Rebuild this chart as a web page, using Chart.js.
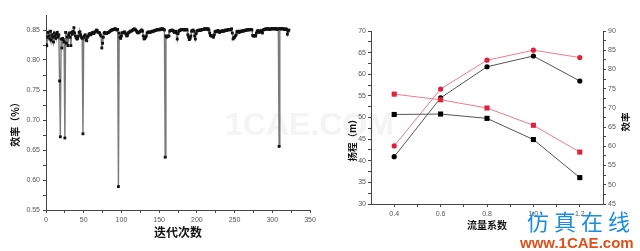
<!DOCTYPE html>
<html>
<head>
<meta charset="utf-8">
<script src="https://cdn.jsdelivr.net/npm/chart.js@4/dist/chart.umd.min.js"></script>
<style>
  html, body { margin: 0; padding: 0; background: #fff; overflow: hidden; }
  #wrap { position: relative; width: 640px; height: 251px; }
  canvas { position: absolute; top: 0; z-index: 1; }
  #c1 { left: 0; }
  #c2 { left: 330px; }
  .mark { position: absolute; white-space: nowrap; }
  #wm { left: 225px; top: 106px; font: bold 32px "Liberation Sans", Arial, sans-serif; color: #f4f4f4; z-index: 0; }
  #site { left: 527px; top: 206px; font: 22px "Noto Sans CJK SC", sans-serif; color: #1a8de0; letter-spacing: 5px; line-height: 28px; z-index: 2; }
  #url { left: 520px; top: 234px; font: bold 15px "Liberation Sans", Arial, sans-serif; color: #e2501a; line-height: 17px; z-index: 2; }
</style>
</head>
<body>
<div id="wrap">
  <div class="mark" id="wm">1CAE.COM</div>
  <canvas id="c1" width="330" height="251"></canvas>
  <canvas id="c2" width="310" height="251"></canvas>
  <div class="mark" id="site">仿真在线</div>
  <div class="mark" id="url">www.1CAE.com</div>
</div>
<script>
// left chart: efficiency per iteration (index = iteration number)
const iterEff = [
  0.826, 0.824, 0.838, 0.846, 0.840, 0.835, 0.848, 0.833, 0.842, 0.838,
  0.830, 0.845, 0.840, 0.836, 0.843, 0.846, 0.838, 0.842, 0.765, 0.672,
  0.835, 0.820, 0.836, 0.834, 0.830, 0.670, 0.846, 0.828, 0.838, 0.824,
  0.842, 0.845, 0.838, 0.824, 0.846, 0.843, 0.848, 0.854, 0.845, 0.840,
  0.837, 0.835, 0.836, 0.840, 0.846, 0.847, 0.842, 0.838, 0.836, 0.677,
  0.838, 0.840, 0.842, 0.834, 0.832, 0.838, 0.840, 0.843, 0.844, 0.842,
  0.843, 0.845, 0.846, 0.844, 0.845, 0.847, 0.848, 0.850, 0.849, 0.846,
  0.846, 0.845, 0.842, 0.840, 0.820, 0.828, 0.838, 0.845, 0.846, 0.844,
  0.844, 0.845, 0.846, 0.846, 0.847, 0.848, 0.849, 0.850, 0.850, 0.851,
  0.851, 0.852, 0.852, 0.851, 0.850, 0.851, 0.589, 0.845, 0.838, 0.836,
  0.840, 0.845, 0.846, 0.846, 0.847, 0.845, 0.843, 0.840, 0.841, 0.845,
  0.846, 0.847, 0.848, 0.848, 0.849, 0.850, 0.851, 0.852, 0.851, 0.850,
  0.848, 0.846, 0.845, 0.846, 0.847, 0.848, 0.849, 0.850, 0.848, 0.840,
  0.835, 0.836, 0.838, 0.840, 0.845, 0.846, 0.847, 0.846, 0.846, 0.847,
  0.847, 0.848, 0.848, 0.848, 0.849, 0.849, 0.850, 0.850, 0.851, 0.851,
  0.850, 0.851, 0.852, 0.851, 0.852, 0.852, 0.851, 0.850, 0.638, 0.840,
  0.838, 0.839, 0.840, 0.840, 0.848, 0.849, 0.849, 0.850, 0.849, 0.848,
  0.846, 0.847, 0.848, 0.845, 0.835, 0.844, 0.848, 0.849, 0.850, 0.850,
  0.851, 0.851, 0.851, 0.850, 0.850, 0.851, 0.851, 0.850, 0.842, 0.838,
  0.834, 0.836, 0.840, 0.848, 0.849, 0.850, 0.848, 0.840, 0.835, 0.844,
  0.848, 0.849, 0.849, 0.850, 0.849, 0.850, 0.850, 0.851, 0.851, 0.851,
  0.852, 0.852, 0.852, 0.851, 0.852, 0.852, 0.850, 0.845, 0.841, 0.840,
  0.840, 0.840, 0.838, 0.842, 0.847, 0.848, 0.847, 0.848, 0.849, 0.848,
  0.846, 0.847, 0.848, 0.848, 0.849, 0.848, 0.848, 0.849, 0.850, 0.849,
  0.850, 0.850, 0.851, 0.851, 0.850, 0.851, 0.852, 0.845, 0.835, 0.837,
  0.838, 0.840, 0.842, 0.847, 0.848, 0.847, 0.846, 0.848, 0.847, 0.848,
  0.848, 0.849, 0.848, 0.849, 0.849, 0.850, 0.850, 0.850, 0.851, 0.850,
  0.851, 0.851, 0.851, 0.850, 0.841, 0.840, 0.840, 0.841, 0.840, 0.845,
  0.848, 0.849, 0.847, 0.846, 0.848, 0.849, 0.847, 0.845, 0.850, 0.851,
  0.851, 0.852, 0.851, 0.852, 0.852, 0.852, 0.851, 0.851, 0.852, 0.852,
  0.852, 0.852, 0.852, 0.852, 0.852, 0.852, 0.851, 0.852, 0.852, 0.656,
  0.852, 0.852, 0.852, 0.852, 0.852, 0.852, 0.851, 0.851, 0.852, 0.851,
  0.843, 0.848, 0.850
];
const iterTicks = [0, 50, 100, 150, 200, 250, 300, 350];
const iterMinor = [25, 75, 125, 175, 225, 275, 325];
const effTicks = [0.55, 0.60, 0.65, 0.70, 0.75, 0.80, 0.85];
const effMinor = [0.575, 0.625, 0.675, 0.725, 0.775, 0.825];

// right chart: head and efficiency vs flow coefficient
const flowCoef = [0.4, 0.6, 0.8, 1.0, 1.2];
const headBlack = [50.7, 50.8, 49.8, 44.9, 36.1];
const headRed = [55.4, 54.1, 52.2, 48.2, 42.0];
const effBlack = [57.3, 72.6, 80.7, 83.5, 77.0];
const effRed = [60.1, 74.9, 82.4, 85.0, 83.1];
const flowTicks = [0.4, 0.6, 0.8, 1.0, 1.2];
const flowMinor = [0.5, 0.7, 0.9, 1.1];
const headTicks = [30, 35, 40, 45, 50, 55, 60, 65, 70];
const headMinor = [32.5, 37.5, 42.5, 47.5, 52.5, 57.5, 62.5, 67.5];
const effRTicks = [45, 50, 55, 60, 65, 70, 75, 80, 85, 90];
const effRMinor = [47.5, 52.5, 57.5, 62.5, 67.5, 72.5, 77.5, 82.5, 87.5];

const tickFont = { family: '"Liberation Sans", Arial, sans-serif', size: 7 };
const titleFont = { family: '"Noto Sans CJK SC", sans-serif', weight: 'bold' };

// vertical axis titles, placed where the reference has them
const sideTitles = {
  id: 'sideTitles',
  afterDraw(chart, args, opts) {
    const ctx = chart.ctx;
    (opts.items || []).forEach(t => {
      ctx.save();
      ctx.translate(t.x, t.y);
      ctx.rotate(t.rot);
      ctx.font = 'bold ' + t.size + 'px "Noto Sans CJK SC", sans-serif';
      ctx.fillStyle = '#111';
      ctx.textAlign = 'center';
      ctx.textBaseline = 'middle';
      ctx.fillText(t.text, 0, 0);
      ctx.restore();
    });
  }
};

const withMinor = (major, minor) => scale => {
  scale.ticks = major.concat(minor).sort((a, b) => a - b).map(value => ({ value }));
};

function axis(extra) {
  return Object.assign({
    type: 'linear',
    grid: { display: true, drawOnChartArea: false, tickLength: 3, color: '#444', tickWidth: 1 },
    border: { display: true, color: '#444', width: 1 },
  }, extra);
}

new Chart(document.getElementById('c1'), {
  type: 'line',
  data: {
    datasets: [{
      data: iterEff.map((v, i) => ({ x: i, y: v })),
      borderColor: '#7a7a7a',
      borderWidth: 1.4,
      pointStyle: 'rect',
      pointRadius: 2,
      pointBorderWidth: 0,
      pointBackgroundColor: '#111',
      tension: 0
    }]
  },
  options: {
    responsive: false,
    animation: false,
    devicePixelRatio: 1,
    layout: { padding: { top: 15, right: 20, left: 0, bottom: 0 } },
    plugins: {
      legend: { display: false },
      tooltip: { enabled: false },
      sideTitles: { items: [{ text: '效率（%）', x: 15, y: 122, rot: -Math.PI / 2, size: 10 }] }
    },
    scales: {
      x: axis({
        min: 0, max: 350,
        afterBuildTicks: withMinor(iterTicks, iterMinor),
        afterFit: s => { s.height = 41; },
        ticks: {
          autoSkip: false, maxRotation: 0, padding: 3, color: '#555', font: tickFont,
          callback: v => iterTicks.includes(v) ? String(v) : ''
        },
        title: { display: true, text: '迭代次数', color: '#111', font: Object.assign({ size: 12 }, titleFont), padding: { top: 0, bottom: 11 } }
      }),
      y: axis({
        min: 0.55, max: 0.875,
        afterBuildTicks: withMinor(effTicks, effMinor),
        afterFit: s => { s.width = 46; },
        ticks: {
          autoSkip: false, padding: 3, color: '#555', font: tickFont,
          callback: v => effTicks.includes(v) ? v.toFixed(2) : ''
        }
      })
    }
  },
  plugins: [sideTitles]
});

const pts = ys => flowCoef.map((x, i) => ({ x, y: ys[i] }));

new Chart(document.getElementById('c2'), {
  type: 'line',
  data: {
    datasets: [
      { data: pts(headBlack), yAxisID: 'y', borderColor: '#555', backgroundColor: '#000', pointBackgroundColor: '#000', pointStyle: 'rect', pointRadius: 3.6 },
      { data: pts(headRed), yAxisID: 'y', borderColor: '#f07a8a', backgroundColor: '#e0203c', pointBackgroundColor: '#e0203c', pointStyle: 'rect', pointRadius: 3.6 },
      { data: pts(effBlack), yAxisID: 'y1', borderColor: '#555', backgroundColor: '#000', pointBackgroundColor: '#000', pointStyle: 'circle', pointRadius: 2.6 },
      { data: pts(effRed), yAxisID: 'y1', borderColor: '#f07a8a', backgroundColor: '#e0203c', pointBackgroundColor: '#e0203c', pointStyle: 'circle', pointRadius: 2.6 }
    ].map(d => Object.assign({ borderWidth: 1, pointBorderWidth: 0, tension: 0 }, d))
  },
  options: {
    responsive: false,
    animation: false,
    devicePixelRatio: 1,
    layout: { padding: { top: 31, right: 0, left: 0, bottom: 0 } },
    plugins: {
      legend: { display: false },
      tooltip: { enabled: false },
      sideTitles: { items: [
        { text: '扬程（m）', x: 22, y: 138, rot: -Math.PI / 2, size: 9.5 },
        { text: '效率', x: 295, y: 122, rot: -Math.PI / 2, size: 9.5 }
      ] }
    },
    scales: {
      x: axis({
        min: 0.3, max: 1.3,
        afterBuildTicks: withMinor(flowTicks, flowMinor),
        afterFit: s => { s.height = 47; },
        ticks: {
          autoSkip: false, maxRotation: 0, padding: 3, color: '#555', font: tickFont,
          callback: v => flowTicks.includes(v) ? v.toFixed(1) : ''
        },
        title: { display: true, text: '流量系数', color: '#111', font: Object.assign({ size: 10 }, titleFont), padding: { top: 0, bottom: 20 } }
      }),
      y: axis({
        position: 'left', min: 30, max: 70,
        afterBuildTicks: withMinor(headTicks, headMinor),
        afterFit: s => { s.width = 41; },
        ticks: {
          autoSkip: false, padding: 2, color: '#555', font: tickFont,
          callback: v => headTicks.includes(v) ? String(v) : ''
        }
      }),
      y1: axis({
        position: 'right', min: 45, max: 90,
        afterBuildTicks: withMinor(effRTicks, effRMinor),
        afterFit: s => { s.width = 37; },
        ticks: {
          autoSkip: false, padding: 2, color: '#555', font: tickFont,
          callback: v => effRTicks.includes(v) ? String(v) : ''
        }
      })
    }
  },
  plugins: [sideTitles]
});
</script>
</body>
</html>
